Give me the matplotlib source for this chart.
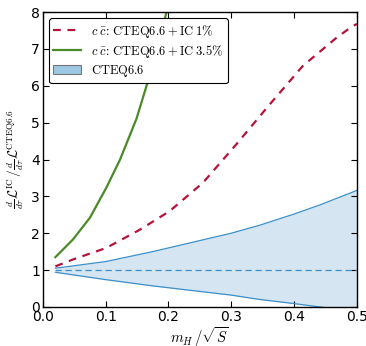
import matplotlib
matplotlib.use("Agg")
import matplotlib.pyplot as plt
from matplotlib.patches import Patch
import numpy as np

# values
x_green = [0.02, 0.048, 0.075, 0.101, 0.123, 0.149, 0.170, 0.197, 0.21]
y_green = [1.35, 1.83, 2.42, 3.23, 4.0, 5.1, 6.27, 8.0, 8.9]

x_red = [0.02, 0.05, 0.101, 0.155, 0.202, 0.255, 0.308, 0.361, 0.414, 0.468, 0.4915, 0.5]
y_red = [1.10, 1.30, 1.60, 2.10, 2.60, 3.37, 4.41, 5.49, 6.54, 7.31, 7.60, 7.68]

x_band = [0.02, 0.1, 0.175, 0.25, 0.3, 0.346, 0.4, 0.44, 0.5]
y_upper = [1.05, 1.23, 1.50, 1.80, 2.00, 2.22, 2.52, 2.76, 3.16]
y_lower = [0.94, 0.74, 0.57, 0.42, 0.32, 0.20, 0.09, 0.0, -0.12]

plt.rcParams['mathtext.fontset'] = 'cm'

fig = plt.figure(figsize=(3.66, 3.46), dpi=100)
ax = fig.add_axes([0.117, 0.113, 0.858, 0.852])

blue = '#3a8fcb'
ax.fill_between(x_band, y_lower, y_upper, color='#d5e5f1', lw=0)
ax.plot(x_band, y_upper, color=blue, lw=0.9)
ax.plot(x_band, y_lower, color=blue, lw=0.9)
ax.plot([x_band[0], x_band[-1]], [1, 1], color=blue, lw=0.9, dashes=(5, 3))

ax.plot(x_red, y_red, color='#b5143a', lw=1.6, dashes=(3.5, 3))
ax.plot(x_green, y_green, color='#4a8a28', lw=1.6)

ax.set_xlim(0, 0.5)
ax.set_ylim(0, 8)
ax.set_xticks([0.0, 0.1, 0.2, 0.3, 0.4, 0.5])
ax.set_yticks(range(9))
ax.tick_params(direction='in', top=True, right=True, labelsize=10, length=4, pad=2)
for s in ax.spines.values():
    s.set_linewidth(1.0)

ax.set_xlabel(r'$m_H\,/\sqrt{S}$', fontsize=10.5, labelpad=1)
ax.set_ylabel(r'$\frac{d}{d\tau}\mathcal{L}^{\rm IC}\,/\frac{d}{d\tau}\mathcal{L}^{\rm CTEQ6.6}$',
              fontsize=9.5, labelpad=4)

handles = [
    plt.Line2D([], [], color='#b5143a', lw=1.6, dashes=(3.5, 3)),
    plt.Line2D([], [], color='#4a8a28', lw=1.6),
    Patch(facecolor='#9cc8e3', edgecolor='#777777', lw=0.8),
]
labels = [
    r'$c\;\bar{c}\!:\,{\rm CTEQ6.6+IC\;1\%}$',
    r'$c\;\bar{c}\!:\,{\rm CTEQ6.6+IC\;3.5\%}$',
    r'${\rm CTEQ6.6}$',
]
leg = ax.legend(handles, labels, loc='upper left', fontsize=9, fancybox=True,
                framealpha=1, edgecolor='black', handlelength=2.2,
                borderaxespad=0.5, labelspacing=0.25, borderpad=0.35)
leg.get_frame().set_linewidth(0.8)

fig.savefig('out.png', dpi=100)
